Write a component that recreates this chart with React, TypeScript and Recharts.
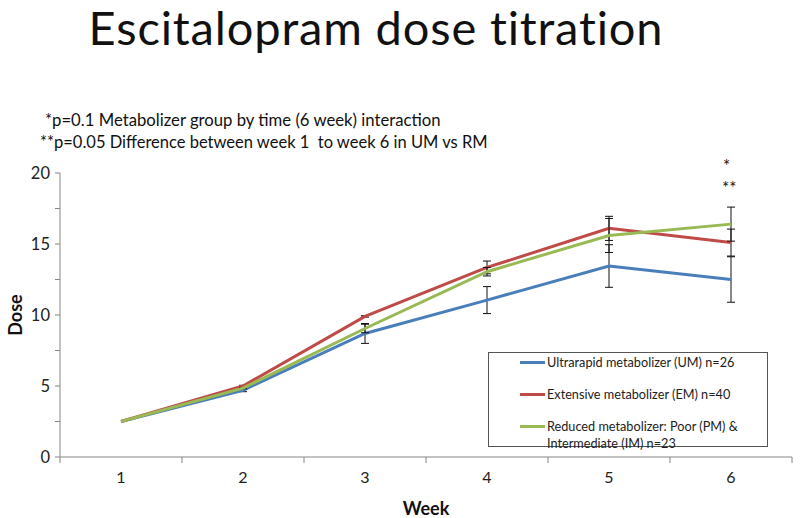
import { LineChart, Line, XAxis, YAxis, ErrorBar, Legend } from 'recharts'

const weeks = [1, 2, 3, 4, 5, 6]
const umDose = [2.5, 4.7, 8.7, 11.05, 13.45, 12.5]
const umErr = [0, 0.1, 0.7, 0.95, 1.5, 1.6]
const emDose = [2.5, 5.0, 9.9, 13.35, 16.1, 15.1]
const emErr = [0, 0.05, 0.05, 0.45, 0.85, 0.95]
const rmDose = [2.5, 4.85, 9.05, 13.05, 15.6, 16.4]
const rmErr = [0, 0.05, 0.3, 0.3, 1.2, 1.2]

const seriesOrder = ['um', 'em', 'rm']
const xTicks = [0.5, 1, 1.5, 2, 2.5, 3, 3.5, 4, 4.5, 5, 5.5, 6, 6.5]
const yTicks = [0, 2.5, 5, 7.5, 10, 12.5, 15, 17.5, 20]

const data = weeks.map((w, i) => ({
  week: w,
  um: umDose[i], umErr: umErr[i],
  em: emDose[i], emErr: emErr[i],
  rm: rmDose[i], rmErr: rmErr[i],
}))

const FONT = 'Lato, "Open Sans", sans-serif'
const AXIS = '#868686'

const XTick = ({ x, y, payload }: any) => {
  const v = payload.value
  if (Number.isInteger(v)) {
    return (
      <text x={x} y={y + 26} textAnchor="middle" fontSize={16} fill="#222" fontFamily={FONT}>
        {v}
      </text>
    )
  }
  return <line x1={x} x2={x} y1={y} y2={y + 6} stroke={AXIS} />
}

const YTick = ({ x, y, payload }: any) => {
  const v = payload.value
  if (v % 5 !== 0) return null
  return (
    <text x={x} y={y + 6} textAnchor="end" fontSize={16.5} fill="#222" fontFamily={FONT}>
      {v}
    </text>
  )
}

const LegendBox = ({ payload }: any) => {
  const items = [...(payload || [])].sort(
    (a: any, b: any) => seriesOrder.indexOf(a.dataKey) - seriesOrder.indexOf(b.dataKey),
  )
  return (
    <div style={{
      border: '1px solid #555', background: '#fff', width: 280, height: 95,
      boxSizing: 'border-box', padding: '1px 0 0 31px', fontFamily: FONT, fontSize: 12.7, color: '#222',
    }}>
      {items.map((p: any) => (
        <div key={p.value} style={{ display: 'flex', alignItems: 'flex-start', marginBottom: 15, lineHeight: '17px' }}>
          <span style={{ display: 'inline-block', width: 25, height: 3, background: p.color, marginTop: 7, marginRight: 2, flexShrink: 0 }} />
          <span style={{ width: 215 }}>{p.value}</span>
        </div>
      ))}
    </div>
  )
}

export default function App() {
  return (
    <div style={{ position: 'absolute', left: 0, top: 0, width: 800, height: 518, background: '#fff', fontFamily: FONT }}>
      <div style={{
        position: 'absolute', left: 0, width: 752, top: 4, textAlign: 'center',
        fontSize: 47, lineHeight: '47px', letterSpacing: 0.85, color: '#111',
      }}>
        Escitalopram dose titration
      </div>
      <div style={{ position: 'absolute', left: 45, top: 110, fontSize: 16.7, color: '#111' }}>
        *p=0.1 Metabolizer group by time (6 week) interaction
      </div>
      <div style={{ position: 'absolute', left: 40, top: 132, fontSize: 16.5, color: '#111', whiteSpace: 'pre' }}>
        **p=0.05 Difference between week 1  to week 6 in UM vs RM
      </div>
      <div style={{ position: 'absolute', left: 723, top: 155, fontSize: 17, color: '#111' }}>*</div>
      <div style={{ position: 'absolute', left: 722, top: 177, fontSize: 17, color: '#111' }}>**</div>
      <div style={{
        position: 'absolute', left: 15, top: 315, transform: 'translate(-50%, -50%) rotate(-90deg)',
        fontSize: 18, fontWeight: 700, color: '#111',
      }}>
        Dose
      </div>
      <LineChart width={800} height={518} data={data} margin={{ top: 173, right: 8, bottom: 0, left: 0 }}>
        <XAxis
          dataKey="week"
          type="number"
          domain={[0.5, 6.5]}
          ticks={xTicks}
          interval={0}
          tick={<XTick />}
          tickLine={false}
          tickSize={0}
          tickMargin={0}
          axisLine={{ stroke: AXIS }}
          height={61}
          label={{ value: 'Week', position: 'insideBottom', offset: 3, fontSize: 18, fontWeight: 700, fill: '#111', fontFamily: FONT }}
        />
        <YAxis
          type="number"
          domain={[0, 20]}
          ticks={yTicks}
          interval={0}
          width={60}
          tick={<YTick />}
          tickLine={{ stroke: AXIS }}
          tickSize={5}
          tickMargin={5}
          axisLine={{ stroke: AXIS }}
        />
        <Legend
          layout="horizontal"
          verticalAlign="middle"
          content={<LegendBox />}
          wrapperStyle={{ position: 'absolute', left: 488, top: 352, width: 280 }}
        />
        <Line dataKey="um" name="Ultrarapid metabolizer (UM) n=26" stroke="#4a7ebb" strokeWidth={3} dot={false} isAnimationActive={false}>
          <ErrorBar dataKey="umErr" width={4} stroke="#111" strokeWidth={1} isAnimationActive={false} />
        </Line>
        <Line dataKey="em" name="Extensive metabolizer (EM) n=40" stroke="#be4b48" strokeWidth={3} dot={false} isAnimationActive={false}>
          <ErrorBar dataKey="emErr" width={4} stroke="#111" strokeWidth={1} isAnimationActive={false} />
        </Line>
        <Line dataKey="rm" name="Reduced metabolizer: Poor (PM) & Intermediate (IM) n=23" stroke="#98b954" strokeWidth={3} dot={false} isAnimationActive={false}>
          <ErrorBar dataKey="rmErr" width={4} stroke="#111" strokeWidth={1} isAnimationActive={false} />
        </Line>
      </LineChart>
    </div>
  )
}
